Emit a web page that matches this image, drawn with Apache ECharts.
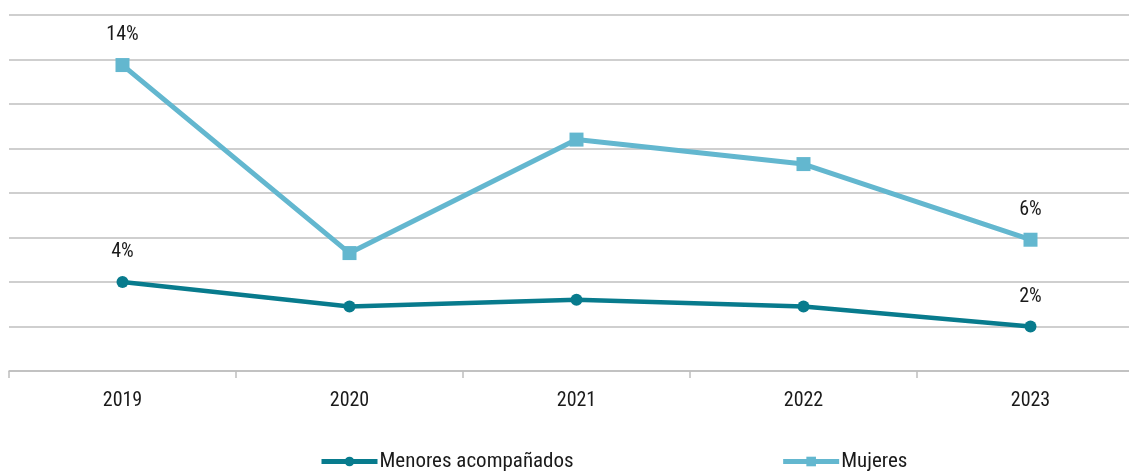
<!DOCTYPE html>
<html>
<head>
<meta charset="utf-8">
<script src="https://cdn.jsdelivr.net/npm/echarts@6/dist/echarts.min.js"></script>
<style>
  html, body { margin: 0; padding: 0; background: #fff; }
  #chart { width: 1129px; height: 474px; }
</style>
</head>
<body>
<div id="chart"></div>
<script>
// datos (porcentaje)
const years = ['2019', '2020', '2021', '2022', '2023'];
const menores = [4.0, 2.9, 3.2, 2.9, 2.0];
const mujeres = [13.75, 5.3, 10.4, 9.3, 5.9];
const labeledIdx = [0, 4]; // solo se rotulan el primer y el último punto

const FONT = "'Roboto Condensed', 'Liberation Sans Narrow', 'DejaVu Sans Condensed', sans-serif";

function withLabels(values) {
  return values.map((v, i) => ({
    value: v,
    label: { show: labeledIdx.includes(i) }
  }));
}

const chart = echarts.init(document.getElementById('chart'));
const option = {
  animation: false,
  textStyle: { fontFamily: FONT },
  // el último año queda cortado por el borde derecho, como en el original
  grid: { left: 9, width: 1135, top: 15, bottom: 103, outerBoundsMode: 'none' },
  legend: {
    left: 319,
    top: 451,
    padding: 0,
    itemWidth: 56,
    itemHeight: 12,
    itemGap: 207,
    textStyle: { fontFamily: FONT, fontSize: 21, color: '#1a1a1a', padding: [0, 0, 0, -3] },
    data: [
      { name: 'Menores acompañados', lineStyle: { width: 5 } },
      { name: 'Mujeres', lineStyle: { width: 5 } }
    ]
  },
  xAxis: {
    type: 'category',
    data: years,
    boundaryGap: true,
    axisLine: { lineStyle: { color: '#bfbfbf', width: 1.5 } },
    axisTick: { show: true, length: 7, lineStyle: { color: '#bfbfbf', width: 1.5 } },
    axisLabel: { fontFamily: FONT, fontSize: 20, color: '#1a1a1a', margin: 20 }
  },
  yAxis: {
    type: 'value',
    min: 0,
    max: 16,
    interval: 2,
    axisLabel: { show: false },
    axisLine: { show: false },
    axisTick: { show: false },
    splitLine: { lineStyle: { color: '#bfbfbf', width: 1.5 } }
  },
  series: [
    {
      name: 'Menores acompañados',
      type: 'line',
      data: withLabels(menores),
      symbol: 'circle',
      symbolSize: 12,
      itemStyle: { color: '#087b8d' },
      lineStyle: { color: '#087b8d', width: 4.5 },
      label: {
        position: 'top',
        distance: 14,
        fontFamily: FONT,
        fontSize: 20,
        color: '#1a1a1a',
        formatter: p => Math.round(p.value) + '%'
      }
    },
    {
      name: 'Mujeres',
      type: 'line',
      data: withLabels(mujeres),
      symbol: 'rect',
      symbolSize: 14,
      itemStyle: { color: '#63b7cf' },
      lineStyle: { color: '#63b7cf', width: 5 },
      label: {
        position: 'top',
        distance: 13,
        fontFamily: FONT,
        fontSize: 20,
        color: '#1a1a1a',
        formatter: p => Math.round(p.value) + '%'
      }
    }
  ]
};
chart.setOption(option);
</script>
</body>
</html>
